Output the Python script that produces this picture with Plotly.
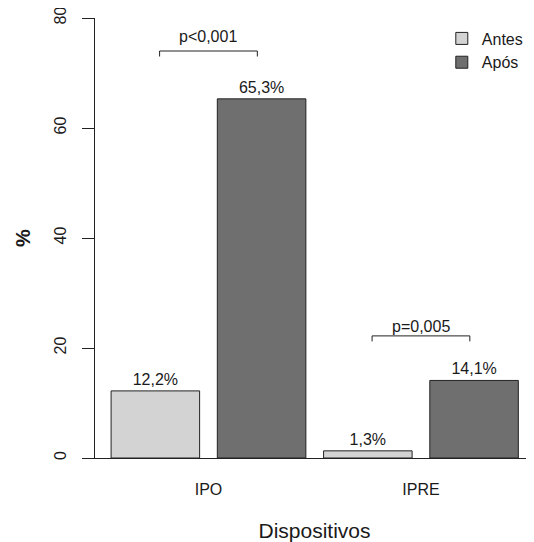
import plotly.graph_objects as go

categories = ["IPO", "IPRE"]
antes = [12.2, 1.3]
apos = [65.3, 14.1]
series_names = ["Antes", "Após"]
p_labels = ["p<0,001", "p=0,005"]
bracket_y = [74.0, 22.2]
plabel_y = [76.7, 24.0]
y_ticks = [0, 20, 40, 60, 80]

FONT = "Liberation Sans, Arial, sans-serif"
TXT = "#1a1a1a"

fig = go.Figure()
fig.add_trace(go.Bar(
    name=series_names[0], x=categories, y=antes,
    marker=dict(color="#d3d3d3", line=dict(color="#222222", width=1)),
    texttemplate="%{y:.1f}%", textposition="outside", cliponaxis=False,
    constraintext="none", textfont=dict(family=FONT, size=16, color=TXT),
))
fig.add_trace(go.Bar(
    name=series_names[1], x=categories, y=apos,
    marker=dict(color="#6f6f6f", line=dict(color="#222222", width=1)),
    texttemplate="%{y:.1f}%", textposition="outside", cliponaxis=False,
    constraintext="none", textfont=dict(family=FONT, size=16, color=TXT),
))

# significance brackets
half = 0.23
leg = 1.0
for i, (by, ly, lab) in enumerate(zip(bracket_y, plabel_y, p_labels)):
    line = dict(color="#222222", width=1)
    fig.add_shape(type="line", xref="x", yref="y", x0=i - half, x1=i + half, y0=by, y1=by, line=line)
    fig.add_shape(type="line", xref="x", yref="y", x0=i - half, x1=i - half, y0=by, y1=by - leg, line=line)
    fig.add_shape(type="line", xref="x", yref="y", x0=i + half, x1=i + half, y0=by, y1=by - leg, line=line)
    fig.add_annotation(x=i, y=ly, xref="x", yref="y", text=lab, showarrow=False,
                       font=dict(family=FONT, size=16, color=TXT), yanchor="middle")

# page body has an 8px margin: figure is 8px smaller and margins shifted
fig.update_layout(
    width=526, height=534,
    margin=dict(l=87, r=0, t=10, b=84),
    paper_bgcolor="white", plot_bgcolor="white",
    barmode="group", bargap=0.0, bargroupgap=0.1667,
    separators=",.",
    font=dict(family=FONT, size=16, color=TXT),
    showlegend=True,
    legend=dict(x=0.79, y=0.992, xanchor="left", yanchor="top",
                font=dict(family=FONT, size=16, color=TXT),
                bgcolor="rgba(0,0,0,0)", borderwidth=0, tracegroupgap=0),
    xaxis=dict(type="category", range=[-0.534, 1.532], showline=True, linecolor="#222222",
               linewidth=1, ticks="", showgrid=False, zeroline=False,
               tickfont=dict(family=FONT, size=16, color=TXT), ticklabelstandoff=17,
               title=dict(text="Dispositivos", font=dict(family=FONT, size=21, color=TXT), standoff=27),
               automargin=False),
    yaxis=dict(range=[0, 80], tickvals=y_ticks, showline=True, linecolor="#222222", linewidth=1,
               ticks="outside", ticklen=12, tickcolor="#222222", tickangle=-90,
               ticklabeloverflow="allow",
               showgrid=False, zeroline=False,
               tickfont=dict(family=FONT, size=16, color=TXT), ticklabelstandoff=10,
               title=dict(text="<b>%</b>", font=dict(family=FONT, size=20, color=TXT), standoff=15),
               automargin=False),
)

fig.write_html("out.html")
